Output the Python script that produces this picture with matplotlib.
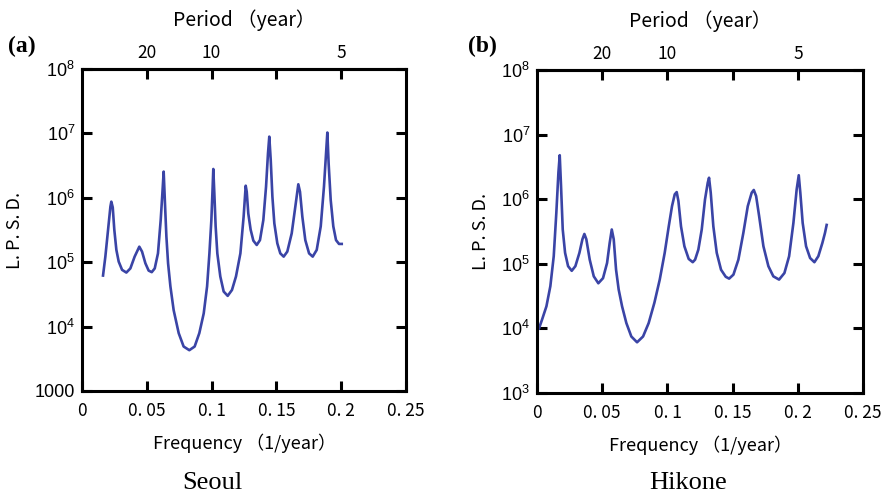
import matplotlib.pyplot as plt
from matplotlib.ticker import NullLocator

plt.rcParams['font.family'] = ['Noto Sans CJK JP', 'DejaVu Sans']

# Seoul spectrum (frequency 1/year, L.P.S.D.)
seoul_freq = [0.0162, 0.0180, 0.0201, 0.0219, 0.0226, 0.0237, 0.0249, 0.0265, 0.0283, 0.0309,
              0.0342, 0.0373, 0.0406, 0.0442, 0.0463, 0.0489, 0.0514, 0.0538, 0.0561, 0.0586,
              0.0607, 0.0620, 0.0630, 0.0640, 0.0651, 0.0664, 0.0682, 0.0707, 0.0746, 0.0784,
              0.0828, 0.0869, 0.0905, 0.0939, 0.0965, 0.0983, 0.0998, 0.1008, 0.1013, 0.1021,
              0.1031, 0.1044, 0.1067, 0.1093, 0.1124, 0.1157, 0.1188, 0.1222, 0.1247, 0.1263,
              0.1271, 0.1283, 0.1301, 0.1322, 0.1348, 0.1373, 0.1399, 0.1420, 0.1435, 0.1445,
              0.1456, 0.1469, 0.1484, 0.1507, 0.1530, 0.1556, 0.1584, 0.1618, 0.1646, 0.1669,
              0.1682, 0.1700, 0.1723, 0.1752, 0.1780, 0.1811, 0.1842, 0.1867, 0.1883, 0.1893,
              0.1903, 0.1919, 0.1939, 0.1960, 0.1983, 0.2004]
seoul_psd = [6.2e4, 1.22e5, 3.2e5, 7.3e5, 8.7e5, 7.1e5, 3.2e5, 1.55e5, 1.02e5, 7.6e4,
             6.9e4, 8.0e4, 1.22e5, 1.74e5, 1.46e5, 9.6e4, 7.4e4, 7.0e4, 8.0e4, 1.37e5,
             4.5e5, 1.17e6, 2.55e6, 8.2e5, 2.5e5, 9.6e4, 4.2e4, 1.8e4, 7.9e3, 4.9e3,
             4.3e3, 4.9e3, 7.9e3, 1.6e4, 4.2e4, 1.37e5, 4.5e5, 1.49e6, 2.8e6, 1.17e6,
             3.6e5, 1.37e5, 6.0e4, 3.5e4, 3.0e4, 3.7e4, 6.0e4, 1.37e5, 5.1e5, 1.54e6,
             1.24e6, 5.7e5, 3.2e5, 2.16e5, 1.85e5, 2.2e5, 4.5e5, 1.49e6, 4.9e6, 8.9e6,
             3.9e6, 1.04e6, 4.0e5, 1.96e5, 1.37e5, 1.22e5, 1.46e5, 2.8e5, 7.3e5, 1.62e6,
             1.24e6, 5.1e5, 2.2e5, 1.37e5, 1.22e5, 1.55e5, 3.6e5, 1.49e6, 4.9e6, 1.03e7,
             3.4e6, 9.2e5, 3.6e5, 2.2e5, 1.92e5, 1.92e5]

# Hikone spectrum
hikone_freq = [0.0015, 0.0038, 0.0072, 0.0102, 0.0128, 0.0148, 0.0164, 0.0174, 0.0184, 0.0197,
               0.0215, 0.0238, 0.0266, 0.0294, 0.0325, 0.0348, 0.0363, 0.0378, 0.0404, 0.0435,
               0.0470, 0.0506, 0.0537, 0.0557, 0.0573, 0.0588, 0.0606, 0.0626, 0.0652, 0.0685,
               0.0723, 0.0767, 0.0813, 0.0856, 0.0900, 0.0941, 0.0979, 0.1010, 0.1035, 0.1056,
               0.1071, 0.1084, 0.1104, 0.1130, 0.1163, 0.1194, 0.1212, 0.1237, 0.1263, 0.1288,
               0.1309, 0.1319, 0.1332, 0.1352, 0.1378, 0.1411, 0.1447, 0.1473, 0.1506, 0.1544,
               0.1582, 0.1616, 0.1646, 0.1662, 0.1680, 0.1703, 0.1736, 0.1774, 0.1812, 0.1856,
               0.1897, 0.1933, 0.1966, 0.1991, 0.2007, 0.2019, 0.2037, 0.2063, 0.2094, 0.2127,
               0.2157, 0.2188, 0.2208, 0.2221]
hikone_psd = [1.0e4, 1.36e4, 2.2e4, 4.5e4, 1.31e5, 6.2e5, 2.6e6, 4.8e6, 1.6e6, 3.4e5,
              1.48e5, 9.2e4, 7.8e4, 9.2e4, 1.48e5, 2.4e5, 2.9e5, 2.4e5, 1.16e5, 6.4e4,
              5.0e4, 6.0e4, 1.03e5, 2.1e5, 3.4e5, 2.4e5, 8.1e4, 4.0e4, 2.2e4, 1.21e4,
              7.5e3, 6.1e3, 7.5e3, 1.21e4, 2.5e4, 5.7e4, 1.48e5, 3.8e5, 7.8e5, 1.19e6,
              1.29e6, 9.4e5, 3.8e5, 1.87e5, 1.19e5, 1.06e5, 1.16e5, 1.66e5, 3.4e5, 9.9e5,
              1.8e6, 2.15e6, 1.26e6, 3.8e5, 1.48e5, 8.1e4, 6.3e4, 5.9e4, 6.8e4, 1.16e5,
              3.0e5, 7.8e5, 1.26e6, 1.39e6, 1.12e6, 5.5e5, 1.87e5, 9.2e4, 6.4e4, 5.7e4,
              7.2e4, 1.31e5, 4.3e5, 1.42e6, 2.35e6, 1.26e6, 4.3e5, 1.87e5, 1.23e5, 1.06e5,
              1.31e5, 2.1e5, 3.0e5, 4.0e5]

freq_ticks = [0, 0.05, 0.1, 0.15, 0.2, 0.25]
freq_labels = ['0', '0. 05', '0. 1', '0. 15', '0. 2', '0. 25']
period_ticks = [0.05, 0.1, 0.15, 0.2]
period_labels = ['20', '10', '', '5']
psd_ticks = [1e3, 1e4, 1e5, 1e6, 1e7, 1e8]
psd_labels_a = ['1000'] + [r'$\mathregular{10^{%d}}$' % k for k in range(4, 9)]
psd_labels_b = [r'$\mathregular{10^{%d}}$' % k for k in range(3, 9)]

line_color = '#3a44a6'
lw_frame = 2.2

fig = plt.figure(figsize=(8.83, 4.98), dpi=100)
ax_a = fig.add_axes([0.0929, 0.2149, 0.3669, 0.6466])
ax_b = fig.add_axes([0.6082, 0.2108, 0.3692, 0.6486])

panels = [
    (ax_a, seoul_freq, seoul_psd, psd_labels_a, '(a)', 'Seoul', 0.025, 0.241),
    (ax_b, hikone_freq, hikone_psd, psd_labels_b, '(b)', 'Hikone', 0.546, 0.779),
]

for ax, fr, psd, ylabels, tag, city, tag_x, city_x in panels:
    ax.plot(fr, psd, color=line_color, lw=1.9, solid_joinstyle='round')
    ax.set_yscale('log')
    ax.set_xlim(0, 0.25)
    ax.set_ylim(1e3, 1e8)
    ax.set_xticks(freq_ticks, freq_labels, fontsize=12.5)
    ax.set_yticks(psd_ticks, ylabels, fontsize=13, family='Liberation Sans')
    ax.yaxis.set_minor_locator(NullLocator())
    ax.tick_params(axis='both', direction='in', length=7, width=lw_frame,
                   left=True, right=True, bottom=True, top=False)
    ax.tick_params(axis='x', pad=8)
    ax.tick_params(axis='y', pad=5)
    for sp in ax.spines.values():
        sp.set_linewidth(lw_frame)
    ax.set_xlabel('Frequency （1/year）', fontsize=13, labelpad=10)
    ax.set_ylabel('L. P. S. D.', fontsize=13, labelpad=8)

    sec = ax.secondary_xaxis('top')
    sec.set_xticks(period_ticks, period_labels, fontsize=12.5)
    sec.tick_params(direction='in', length=7, width=lw_frame, pad=5)
    sec.spines['top'].set_linewidth(lw_frame)
    sec.set_xlabel('Period （year）', fontsize=14, labelpad=13)

    fig.text(tag_x, 0.907, tag, fontsize=17, fontweight='bold', family='Liberation Serif',
             ha='center', va='center')
    fig.text(city_x, 0.03, city, fontsize=19, family='Liberation Serif',
             ha='center', va='center')

plt.savefig('out.png', dpi=100)
